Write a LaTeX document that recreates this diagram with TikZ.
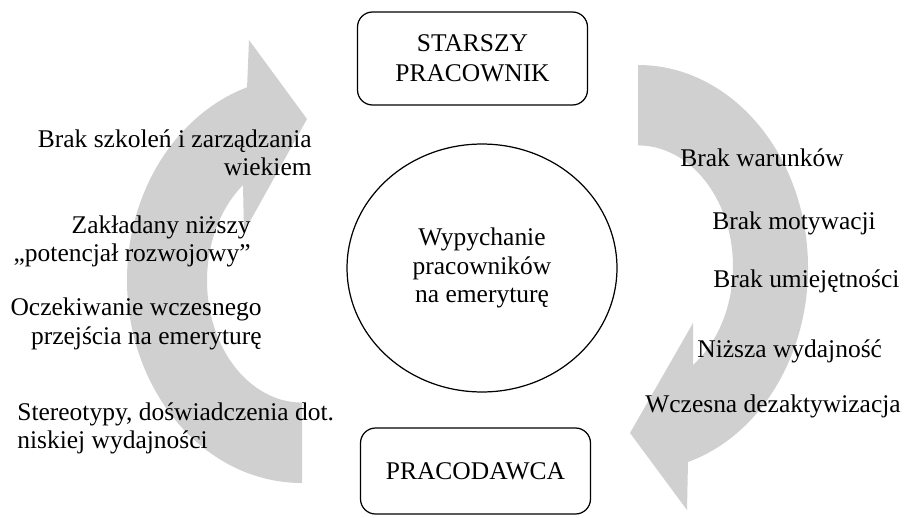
\documentclass[tikz,border=0pt]{standalone}
\usepackage{fontspec}
\setmainfont{Liberation Serif}
\usepackage{tikz}
\usetikzlibrary{positioning,shapes.geometric}
\definecolor{arrowGray}{RGB}{208,208,208}
\newcommand{\labelFont}{\fontsize{14.5}{16.2}\selectfont}
\tikzstyle{diagram} = [x=0.02cm, y=-0.02cm, every node/.style={font=\labelFont, inner sep=0pt}]
\tikzstyle{arrowStyle} = [fill=arrowGray, draw=none]
\tikzstyle{actorBox} = [draw=black, line width=0.7pt, rounded corners=0.3cm, align=center, minimum width=4.6cm]
\tikzstyle{centerEllipse} = [draw=black, line width=0.7pt, ellipse, align=center, minimum width=5.4cm, minimum height=4.96cm]
\tikzstyle{causeLeft} = [align=right, anchor=east]
\tikzstyle{causeRight} = [anchor=west]
\newcommand{\causeText}[3]{\node [causeRight] (#1) at (#2) {#3};}

\begin{document}
\begin{tikzpicture}[diagram]
\useasboundingbox (0,0) rectangle (908,517);
% szare strzalki
\fill [arrowStyle] (302,403) -- (302,483)
  arc [start angle=90, end angle=251.7, x radius=175, y radius=203]
  -- (249,40) -- (307,119) -- (244,232) -- (243,185)
  arc [start angle=231.6, end angle=90, x radius=95, y radius=122] -- cycle;
\fill [arrowStyle] (638,145) -- (638,65)
  arc [start angle=270, end angle=432.9, x radius=170, y radius=203]
  -- (687,510) -- (630,433) -- (693,323) -- (693,365)
  arc [start angle=414.6, end angle=270, x radius=95, y radius=121] -- cycle;
% wezly
\node [actorBox, minimum height=1.86cm] (worker) at (472.5,58.5) {STARSZY\\[0.7pt]PRACOWNIK};
\node [actorBox, minimum height=1.72cm] (employer) at (475.5,471) {PRACODAWCA};
\node [centerEllipse] (pushOut) at (482,268) {Wypychanie\\pracowników\\na emeryturę};
% przyczyny po lewej
\node [causeLeft] (training) at (312,153) {Brak szkoleń i zarządzania\\wiekiem};
\node [causeLeft] (potential) at (251,241.5) {Zakładany niższy\\„potencjał rozwojowy”};
\node [causeLeft] (earlyExit) at (262,324) {Oczekiwanie wczesnego\\przejścia na emeryturę};
\node [align=left, anchor=west] (stereotypes) at (17,428.5) {Stereotypy, doświadczenia dot.\\niskiej wydajności};
% przyczyny po prawej
\causeText{conditions}{680,158}{Brak warunków}
\causeText{motivation}{712,223}{Brak motywacji}
\causeText{skills}{713,281}{Brak umiejętności}
\causeText{efficiency}{697,351}{Niższa wydajność}
\causeText{deactivation}{645,406}{Wczesna dezaktywizacja}
\end{tikzpicture}
\end{document}
